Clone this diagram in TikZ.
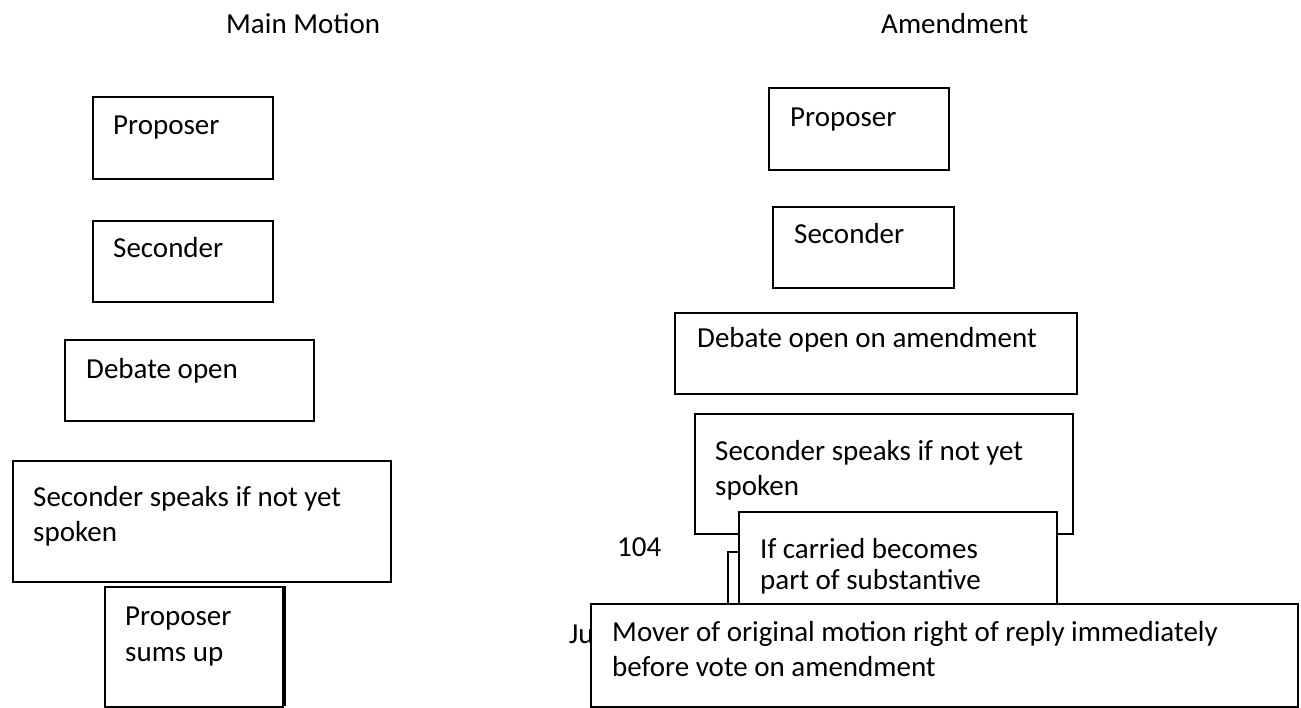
\documentclass[tikz,border=0pt]{standalone}
\usepackage{fontspec}
\setmainfont{Carlito}
\begin{document}
\begin{tikzpicture}[x=1pt,y=-1pt,
  box/.style={draw, fill=white, line width=1.6pt, inner sep=0pt, anchor=north west},
  txt/.style={inner sep=0pt, anchor=base west, align=left, font=\fontsize{29}{35.5}\selectfont}]
\useasboundingbox (0,0) rectangle (1301,708);
\fill[white] (0,0) rectangle (1301,708);
% titles
\node[txt] (t1) at (226,34) {Main Motion};
\node[txt] (t2) at (881,34) {Amendment};
% left column
\node[box, minimum width=180pt, minimum height=82pt] (l1) at (92,96) {};
\node[txt] (l1t) at (113,135) {Proposer};
\node[box, minimum width=180pt, minimum height=81pt] (l2) at (92,220) {};
\node[txt] (l2t) at (113,258) {Seconder};
\node[box, minimum width=249pt, minimum height=81pt] (l3) at (64,339) {};
\node[txt] (l3t) at (86,378) {Debate open};
\node[box, minimum width=378pt, minimum height=121pt] (l4) at (12,460) {};
\node[txt] (l4t) at (33,541.5) {Seconder speaks if not yet\\spoken};
\node[box, minimum width=178pt, minimum height=120pt] (l5) at (104,586) {};
\coordinate (l5a) at (285,586);
\coordinate (l5b) at (285,706);
\draw[line width=1.4pt] (l5a) -- (l5b);
\node[txt] (l5t) at (125,661) {Proposer\\sums up};
% right column
\node[box, minimum width=180pt, minimum height=82pt] (r1) at (768,87) {};
\node[txt] (r1t) at (790,127) {Proposer};
\node[box, minimum width=181pt, minimum height=81pt] (r2) at (772,206) {};
\node[txt] (r2t) at (794,244) {Seconder};
\node[box, minimum width=402pt, minimum height=81pt] (r3) at (674,312) {};
\node[txt] (r3t) at (697,348) {Debate open on amendment};
\node[box, minimum width=378pt, minimum height=120pt] (r4) at (694,413) {};
\node[txt] (r4t) at (715,495.5) {Seconder speaks if not yet\\spoken};
\node[txt] (pg) at (617,556) {104};
\node[txt] (ju) at (569,643) {Ju};
\node[box, minimum width=280pt, minimum height=100pt] (r5) at (727,551) {};
\node[box, minimum width=318pt, minimum height=120pt] (r6) at (738,511) {};
\node[txt, font=\fontsize{29}{31}\selectfont] (r6t) at (760,589) {If carried becomes\\part of substantive};
\node[box, minimum width=707pt, minimum height=103pt] (r7) at (590,603) {};
\node[txt] (r7t) at (612,676.5) {Mover of original motion right of reply immediately\\before vote on amendment};
\end{tikzpicture}
\end{document}
